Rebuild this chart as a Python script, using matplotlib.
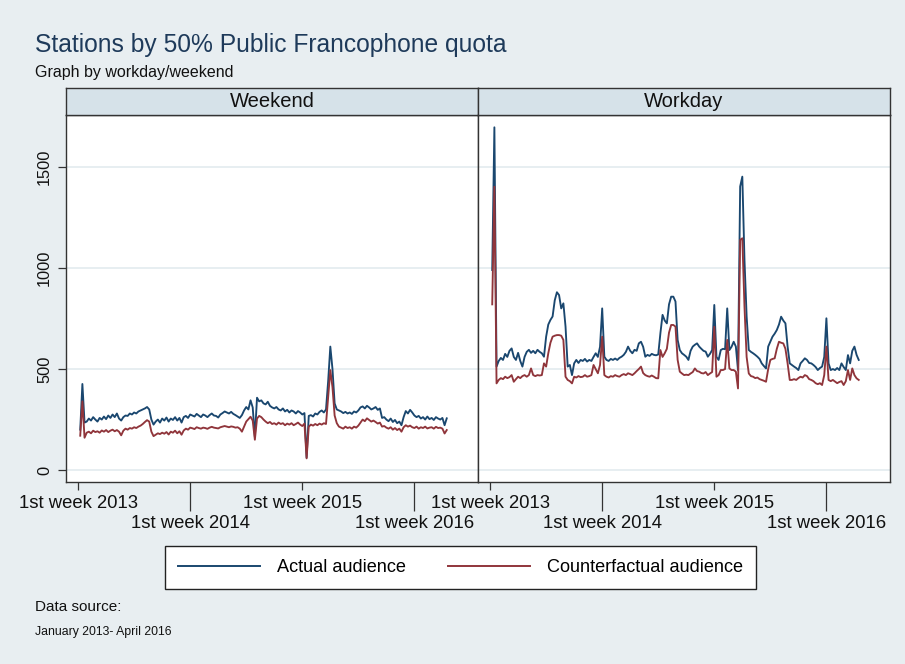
import matplotlib
matplotlib.use("Agg")
import matplotlib.pyplot as plt
from matplotlib.lines import Line2D
import numpy as np

plt.rcParams['font.family'] = ['Liberation Sans', 'DejaVu Sans']

# ---------------- data (weekly, week index from 1st week 2013) ----------------
weeks = list(range(1, 172))

weekend_actual = [
    200, 426, 235, 240, 255, 245, 262, 250, 240, 258, 250, 265, 252, 270, 258, 275, 262, 280, 255, 245,
    262, 270, 268, 280, 275, 285, 280, 290, 295, 300, 305, 312, 300, 250, 225, 240, 250, 235, 255, 245,
    260, 240, 255, 248, 262, 245, 258, 235, 262, 268, 258, 275, 270, 265, 278, 270, 262, 275, 270, 262,
    272, 280, 270, 268, 260, 275, 282, 290, 285, 280, 288, 278, 272, 265, 258, 272, 295, 312, 300, 345,
    310, 165, 358, 340, 345, 330, 325, 338, 318, 310, 305, 312, 300, 295, 305, 290, 298, 285, 295, 290,
    280, 292, 285, 275, 282, 62, 268, 272, 265, 280, 275, 288, 295, 285, 300, 440, 611, 500, 330, 300,
    295, 290, 282, 288, 280, 285, 278, 290, 285, 295, 310, 315, 305, 318, 310, 300, 305, 312, 298, 305,
    258, 262, 250, 242, 255, 238, 248, 232, 240, 222, 262, 292, 280, 298, 285, 270, 262, 268, 255, 262,
    250, 265, 252, 258, 248, 262, 255, 250, 258, 222, 256]

weekend_counterfactual = [
    170, 340, 160, 185, 190, 182, 195, 188, 192, 185, 196, 190, 198, 188, 195, 200, 192, 198, 190, 172,
    195, 205, 200, 208, 205, 212, 208, 215, 220, 228, 238, 247, 240, 190, 168, 175, 182, 178, 185, 180,
    188, 176, 190, 185, 195, 182, 192, 175, 196, 205, 200, 210, 207, 203, 212, 208, 205, 210, 208, 204,
    210, 214, 210, 208, 206, 212, 215, 218, 215, 212, 216, 214, 210, 212, 205, 190, 215, 240, 252, 264,
    245, 150, 255, 268, 262, 250, 240, 232, 238, 228, 232, 225, 235, 228, 232, 222, 230, 225, 232, 222,
    228, 235, 225, 218, 230, 58, 215, 225, 220, 228, 222, 230, 225, 232, 228, 360, 495, 410, 270, 232,
    215, 210, 205, 215, 208, 212, 205, 215, 210, 220, 235, 250, 242, 256, 248, 240, 245, 238, 230, 235,
    215, 218, 210, 205, 212, 200, 208, 198, 205, 190, 212, 222, 215, 220, 212, 208, 215, 205, 212, 208,
    215, 206, 210, 212, 205, 214, 208, 210, 205, 181, 198]

workday_actual = [
    990, 1696, 512, 540, 555, 545, 575, 560, 590, 602, 560, 545, 580, 540, 512, 560, 585, 595, 580, 590,
    578, 595, 585, 578, 561, 660, 720, 743, 760, 840, 880, 866, 800, 825, 710, 512, 520, 470, 528, 545,
    530, 545, 540, 550, 537, 545, 540, 560, 578, 560, 610, 800, 561, 545, 540, 550, 545, 552, 545, 555,
    561, 570, 585, 611, 590, 578, 595, 590, 627, 635, 610, 561, 570, 565, 575, 570, 568, 572, 677, 768,
    740, 726, 820, 858, 858, 834, 644, 594, 578, 570, 561, 545, 590, 611, 620, 627, 611, 600, 590, 586,
    561, 575, 594, 817, 560, 545, 594, 600, 598, 800, 594, 610, 635, 611, 495, 1403, 1452, 1040, 760, 594,
    585, 578, 570, 561, 550, 528, 515, 503, 611, 635, 660, 675, 693, 720, 759, 740, 726, 611, 528, 520,
    512, 505, 495, 528, 540, 553, 545, 530, 528, 520, 510, 495, 505, 512, 560, 751, 528, 495, 500, 495,
    505, 495, 528, 510, 495, 569, 528, 590, 611, 570, 545]

workday_counterfactual = [
    820, 1402, 429, 446, 455, 450, 462, 455, 460, 470, 437, 450, 462, 455, 465, 470, 462, 470, 503, 470,
    465, 470, 468, 470, 528, 512, 578, 630, 660, 665, 668, 668, 665, 644, 462, 446, 440, 429, 462, 458,
    465, 460, 462, 470, 462, 465, 470, 520, 500, 479, 520, 660, 470, 462, 458, 465, 462, 470, 465, 462,
    470, 475, 470, 479, 475, 470, 479, 490, 500, 512, 480, 470, 465, 462, 468, 462, 455, 454, 594, 560,
    578, 600, 680, 718, 718, 710, 545, 487, 478, 470, 472, 470, 478, 485, 503, 490, 487, 480, 478, 485,
    470, 478, 485, 709, 462, 470, 495, 495, 500, 644, 503, 495, 495, 487, 404, 1139, 1147, 809, 560, 478,
    465, 462, 455, 458, 450, 446, 442, 437, 500, 545, 550, 553, 600, 635, 630, 627, 600, 528, 446, 446,
    450, 446, 455, 462, 458, 470, 465, 450, 446, 440, 430, 425, 430, 421, 470, 611, 446, 440, 446, 438,
    430, 436, 440, 421, 440, 495, 446, 503, 470, 454, 446]

panels = ["Weekend", "Workday"]
series_names = ["Actual audience", "Counterfactual audience"]
xtick_pos = [0, 104]
xtick_labels = ["1st week 2013", "1st week 2015"]
xtick_pos_alt = [52, 156]
xtick_labels_alt = ["1st week 2014", "1st week 2016"]
ytick_pos = [0, 500, 1000, 1500]

# ---------------- style ----------------
BG = "#e8eef1"
STRIP = "#d6e2e9"
GRID = "#e7eef1"
NAVY = "#1a476f"
MAROON = "#90353b"
FRAME = "#333333"

W, H = 905, 664
fig = plt.figure(figsize=(W / 100, H / 100), dpi=100, facecolor=BG)

def fx(px):
    return px / W

def fy(py):
    return 1 - py / H

data = {
    "Weekend": (weekend_actual, weekend_counterfactual),
    "Workday": (workday_actual, workday_counterfactual),
}

panel_x = [(66, 478), (478, 890)]
plot_top, plot_bot = 115, 482
strip_top = 88

for i, (name, (x0, x1)) in enumerate(zip(panels, panel_x)):
    ax = fig.add_axes([fx(x0), fy(plot_bot), fx(x1 - x0), (plot_bot - plot_top) / H])
    ax.set_facecolor("white")
    act, cf = data[name]
    for y in ytick_pos:
        ax.axhline(y, color=GRID, lw=1.4, zorder=0)
    ax.plot(weeks, act, color=NAVY, lw=1.35, zorder=2)
    ax.plot(weeks, cf, color=MAROON, lw=1.35, zorder=3)
    ax.set_xlim(-5.6, 185.5)
    ax.set_ylim(-59, 1757)
    for s in ax.spines.values():
        s.set_color(FRAME)
        s.set_linewidth(1.0)
    ax.set_xticks(xtick_pos, xtick_labels)
    ax.set_xticks(xtick_pos_alt, xtick_labels_alt, minor=True)
    ax.tick_params(axis="x", which="major", length=6, width=0.9, color=FRAME,
                   pad=3, labelsize=13.3, labelcolor="#111111")
    ax.tick_params(axis="x", which="minor", length=21, width=0.9, color=FRAME,
                   pad=3, labelsize=13.3, labelcolor="#111111")
    if i == 0:
        ax.set_yticks(ytick_pos, [str(v) for v in ytick_pos])
        ax.tick_params(axis="y", length=6, width=0.9, color=FRAME, pad=4,
                       labelsize=11.8, labelcolor="#111111")
        for lab in ax.get_yticklabels():
            lab.set_rotation(90)
            lab.set_va("center")
    else:
        ax.set_yticks([])

    # strip header
    sax = fig.add_axes([fx(x0), fy(plot_top), fx(x1 - x0), (plot_top - strip_top) / H])
    sax.set_facecolor(STRIP)
    sax.set_xticks([])
    sax.set_yticks([])
    for s in sax.spines.values():
        s.set_color(FRAME)
        s.set_linewidth(1.0)
    sax.text(0.5, 0.5, name, transform=sax.transAxes, ha="center", va="center",
             fontsize=14.5, color="#111111")

# titles
fig.text(fx(35), fy(45), "Stations by 50% Public Francophone quota", fontsize=17.7,
         color="#1e3a5a", va="center", ha="left")
fig.text(fx(35), fy(73), "Graph by workday/weekend", fontsize=11.5,
         color="#111111", va="center", ha="left")

# legend
handles = [Line2D([0], [0], color=NAVY, lw=1.4), Line2D([0], [0], color=MAROON, lw=1.4)]
leg = fig.legend(handles, series_names, loc="center",
                 bbox_to_anchor=(fx((163 + 758) / 2), fy(567.5)), ncol=2,
                 frameon=True, fancybox=False, edgecolor="#222222", facecolor="white",
                 fontsize=13.1, handlelength=4.5, handletextpad=0.93, columnspacing=2.36,
                 borderpad=0.7, framealpha=1)
leg.get_frame().set_linewidth(1.0)

fig.text(fx(35), fy(607), "Data source:", fontsize=11, color="#111111", va="center", ha="left")
fig.text(fx(35), fy(632), "January 2013- April 2016", fontsize=8.8, color="#111111",
         va="center", ha="left")

fig.savefig("out.png", dpi=100, facecolor=BG)
